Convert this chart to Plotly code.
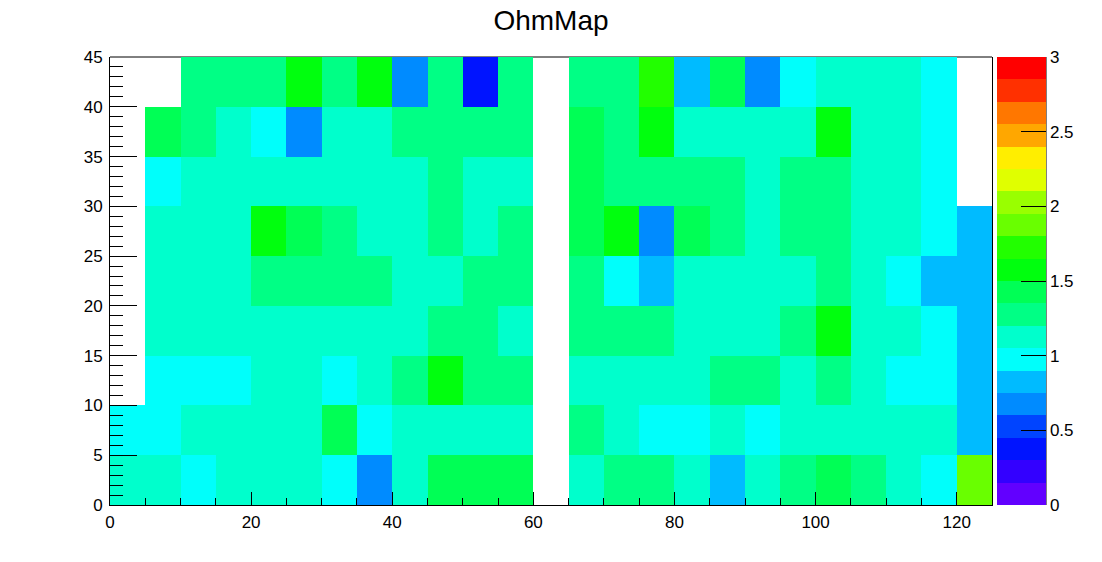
import plotly.graph_objects as go

# Bin edges of the 2D histogram
x_edges = [0, 5, 10, 15, 20, 25, 30, 35, 40, 45, 50, 55, 60, 65, 70, 75, 80, 85,
           90, 95, 100, 105, 110, 115, 120, 125]
y_edges = [0, 5, 10, 15, 20, 25, 30, 35, 40, 45]

# Cell values, one list per y bin (bottom to top); None = empty bin
row_00_05 = [1.12, 1.10, 0.97, 1.13, 1.11, 1.12, 0.98, 0.68, 1.12, 1.42, 1.43, 1.41, None,
             1.12, 1.27, 1.28, 1.11, 0.82, 1.12, 1.26, 1.42, 1.27, 1.13, 0.97, 1.88]
row_05_10 = [0.98, 0.97, 1.12, 1.11, 1.13, 1.12, 1.42, 0.97, 1.12, 1.11, 1.12, 1.13, None,
             1.28, 1.12, 0.98, 0.97, 1.12, 0.98, 1.12, 1.11, 1.13, 1.12, 1.12, 0.82]
row_10_15 = [None, 0.97, 0.98, 0.97, 1.12, 1.11, 0.98, 1.12, 1.27, 1.57, 1.28, 1.27, None,
             1.12, 1.11, 1.12, 1.13, 1.27, 1.28, 1.12, 1.27, 1.12, 0.97, 0.98, 0.83]
row_15_20 = [None, 1.12, 1.11, 1.12, 1.13, 1.12, 1.12, 1.11, 1.12, 1.27, 1.28, 1.12, None,
             1.27, 1.28, 1.26, 1.12, 1.11, 1.12, 1.27, 1.58, 1.12, 1.13, 0.97, 0.82]
row_20_25 = [None, 1.12, 1.13, 1.11, 1.27, 1.28, 1.27, 1.26, 1.12, 1.12, 1.27, 1.28, None,
             1.27, 0.98, 0.82, 1.12, 1.11, 1.12, 1.13, 1.27, 1.12, 0.97, 0.83, 0.82]
row_25_30 = [None, 1.12, 1.11, 1.12, 1.57, 1.42, 1.27, 1.12, 1.13, 1.28, 1.12, 1.27, None,
             1.42, 1.58, 0.67, 1.43, 1.27, 1.12, 1.27, 1.28, 1.12, 1.11, 0.97, 0.82]
row_30_35 = [None, 0.97, 1.12, 1.11, 1.12, 1.13, 1.12, 1.12, 1.11, 1.27, 1.12, 1.13, None,
             1.42, 1.27, 1.28, 1.27, 1.26, 1.12, 1.27, 1.28, 1.12, 1.11, 0.98, None]
row_35_40 = [None, 1.42, 1.27, 1.12, 0.98, 0.67, 1.12, 1.11, 1.27, 1.28, 1.27, 1.26, None,
             1.43, 1.27, 1.57, 1.12, 1.11, 1.12, 1.13, 1.58, 1.12, 1.11, 0.97, None]
row_40_45 = [None, None, 1.27, 1.28, 1.26, 1.57, 1.27, 1.58, 0.68, 1.27, 0.37, 1.28, None,
             1.27, 1.26, 1.72, 0.82, 1.42, 0.67, 0.98, 1.12, 1.11, 1.13, 0.97, None]

z_rows = [row_00_05, row_05_10, row_10_15, row_15_20, row_20_25,
          row_25_30, row_30_35, row_35_40, row_40_45]

# Colour bar
z_min, z_max = 0, 3
cbar_ticks = [0, 0.5, 1, 1.5, 2, 2.5, 3]
cbar_labels = ["0", "0.5", "1", "1.5", "2", "2.5", "3"]

# ROOT "pretty" palette sampled for 20 contour levels
palette = ['#6200ff', '#3300ff', '#0014ff', '#0044ff', '#008bff', '#00bbff',
           '#00fffb', '#00ffcc', '#00ff85', '#00ff55', '#00ff0e', '#22ff00',
           '#69ff00', '#99ff00', '#e0ff00', '#ffee00', '#ffa700', '#ff7700',
           '#ff3000', '#ff0000']
n = len(palette)
colorscale = []
for i, c in enumerate(palette):
    colorscale.append([i / n, c])
    colorscale.append([(i + 1) / n, c])

FONT = "Liberation Sans, Arial, Helvetica, sans-serif"
W, H = 1102, 562
L, R, T, B = 110, 110, 57, 57
plot_w = W - L - R

fig = go.Figure()
fig.add_trace(go.Heatmap(
    z=z_rows, x=x_edges, y=y_edges,
    zmin=z_min, zmax=z_max, colorscale=colorscale,
    xgap=0, ygap=0, hoverongaps=False,
    colorbar=dict(
        x=(997 - L) / plot_w, xanchor="left", xpad=0,
        y=0.5, yanchor="middle", len=1, lenmode="fraction", ypad=0,
        thickness=49, thicknessmode="pixels",
        outlinewidth=0,
        tickmode="array", tickvals=cbar_ticks, ticktext=cbar_labels,
        ticks="inside", ticklen=25, tickwidth=1, tickcolor="black",
        tickfont=dict(family=FONT, size=17, color="black"),
    ),
))

fig.update_layout(
    width=W, height=H,
    margin=dict(l=L, r=R, t=T, b=B, pad=0, autoexpand=False),
    paper_bgcolor="white", plot_bgcolor="white",
    title=dict(text="OhmMap", x=0.5, xanchor="center", y=1 - 20 / H,
               yanchor="middle", yref="container",
               font=dict(family=FONT, size=28, color="black")),
    font=dict(family=FONT, size=17, color="black"),
    xaxis=dict(range=[0, 125], tick0=0, dtick=20, ticks="inside", ticklen=13,
               tickwidth=1, tickcolor="black", ticklabelstandoff=2,
               minor=dict(dtick=5, ticks="inside", ticklen=7, tickcolor="black", tickwidth=1),
               showline=True, linecolor="black", linewidth=1, mirror=False,
               showgrid=False, zeroline=False,
               tickfont=dict(family=FONT, size=17, color="black")),
    yaxis=dict(range=[0, 45], tick0=0, dtick=5, ticks="inside", ticklen=27,
               tickwidth=1, tickcolor="black", ticklabelstandoff=3,
               minor=dict(dtick=1, ticks="inside", ticklen=13, tickcolor="black", tickwidth=1),
               showline=True, linecolor="black", linewidth=1, mirror=True,
               showgrid=False, zeroline=False,
               tickfont=dict(family=FONT, size=17, color="black")),
    shapes=[
        dict(type="line", xref="paper", yref="paper", x0=0, x1=1, y0=1, y1=1,
             line=dict(color="black", width=1), layer="below"),
        dict(type="line", xref="paper", yref="paper",
             x0=(1046 - L) / plot_w, x1=(1046 - L) / plot_w, y0=0, y1=1,
             line=dict(color="black", width=1)),
    ],
)

fig.write_html("out.html")
